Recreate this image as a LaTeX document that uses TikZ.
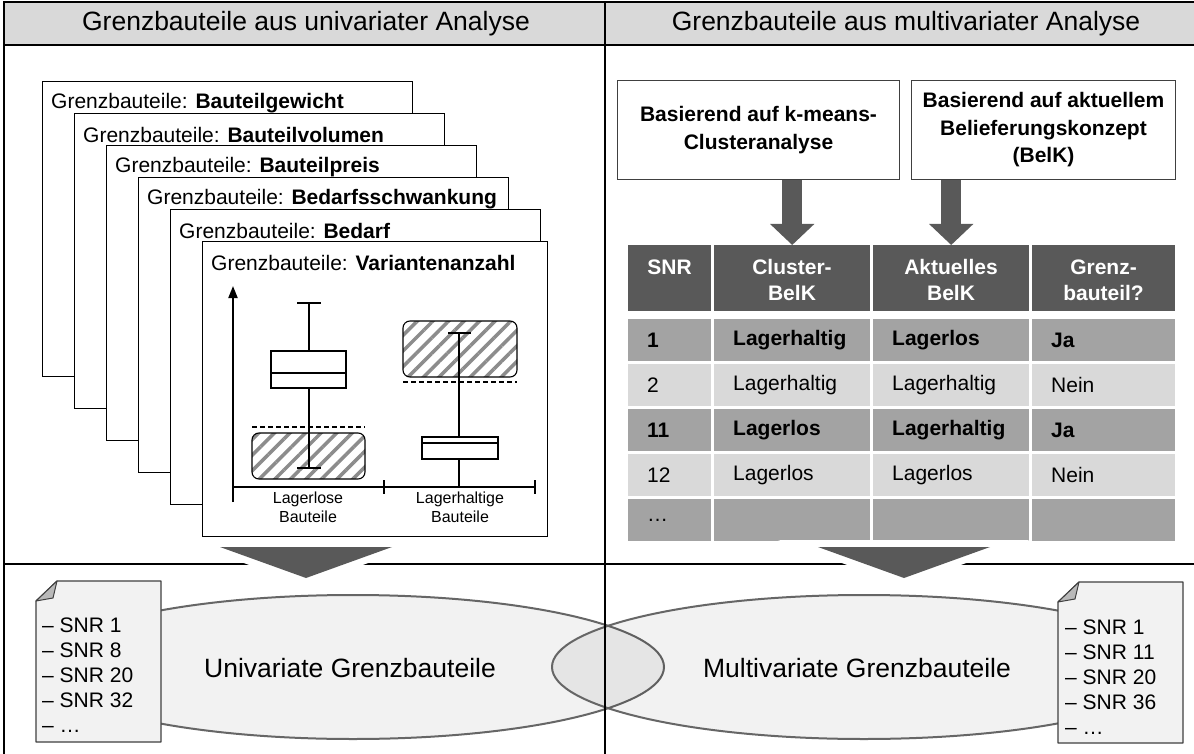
\documentclass[tikz,border=0pt]{standalone}
\usepackage{fontspec}
\setmainfont{Liberation Sans}
\usetikzlibrary{patterns.meta,arrows.meta,shapes.geometric,calc}
\definecolor{band}{HTML}{D9D9D9}
\definecolor{dark}{HTML}{595959}
\definecolor{midg}{HTML}{A3A3A3}
\definecolor{lightg}{HTML}{D9D9D9}
\definecolor{docfill}{HTML}{F2F2F2}
\definecolor{ellline}{HTML}{666666}
\definecolor{hatch}{HTML}{8C8C8C}
\definecolor{boxline}{HTML}{404040}
\begin{document}
\begin{tikzpicture}[x=1pt,y=-1pt,
  frame/.style={line width=1.4pt},
  card/.style={draw=black, fill=white, line width=1pt},
  ctitle/.style={anchor=west, inner sep=0pt, font=\fontsize{21}{25}\selectfont},
  big/.style={font=\fontsize{26.5}{30}\selectfont, inner sep=0pt},
  bp/.style={line width=1.1pt},
  hatchbox/.style={rounded corners=7pt, draw=black, line width=1.1pt, pattern={Lines[angle=45,distance=11pt,line width=3.5pt]}, pattern color=hatch},
  axlabel/.style={font=\fontsize{16}{19}\selectfont, align=center, inner sep=0pt},
  srcbox/.style={draw=boxline, fill=white, line width=1pt, anchor=north west, align=center, inner sep=0pt, font=\bfseries\fontsize{21}{27.5}\selectfont},
  cellbox/.style={anchor=north west, inner sep=0pt, draw=none},
  htext/.style={font=\bfseries\fontsize{21}{26}\selectfont, text=white, align=center, inner sep=0pt},
  btext/.style={font=\fontsize{21}{25}\selectfont, anchor=west, inner sep=0pt},
  bbold/.style={font=\bfseries\fontsize{21}{25}\selectfont, anchor=west, inner sep=0pt},
  bigarrow/.style={draw=dark, line width=20pt, -{Triangle[length=21pt,width=43pt]}},
  ell/.style={ellipse, draw=ellline, line width=2pt, fill=black, fill opacity=0.05, draw opacity=1, inner sep=0pt},
  doc/.style={fill=docfill, draw=boxline, line width=1.2pt, line join=round},
  fold/.style={fill=gray!55, draw=boxline, line width=1pt, line join=round},
  doctext/.style={font=\fontsize{21}{25}\selectfont, align=left, anchor=west, inner sep=0pt},
]
\useasboundingbox (0,0) rectangle (1194,754);
\fill[white] (0,0) rectangle (1194,754);
% header band
\fill[band] (4,2) rectangle (1194,45);

% ---------- stacked cards ----------
\foreach \k/\t in {0/Bauteilgewicht,1/Bauteilvolumen,2/Bauteilpreis,3/Bedarfsschwankung,4/Bedarf}{
  \draw[card] ({42+32*\k},{82+32*\k}) rectangle ++(370,294);
  \node[ctitle] at ({51+32*\k},{103+32*\k}) {Grenzbauteile: \textbf{\t}};
}
\draw[card] (202,242) rectangle (547,536);
\node[ctitle] (c6t) at (211,263) {Grenzbauteile: \textbf{Variantenanzahl}};

% ---------- box plot ----------
\draw[line width=2pt, -{Triangle[length=12pt,width=9pt]}] (233,502) -- (233,286);
\draw[line width=1.3pt] (233,487) -- (535,487);
\draw[line width=1.3pt] (384,480) -- (384,494);
\draw[line width=1.3pt] (535,480) -- (535,494);
% left group
\draw[hatchbox] (252,433) rectangle (365,479);
\draw[line width=1.4pt, dash pattern=on 5pt off 3pt] (252,427) -- (365,427);
\draw[bp] (309,303) -- (309,351);
\draw[bp] (309,388) -- (309,468);
\draw[bp] (297,303) -- (321,303);
\draw[bp] (297,468) -- (321,468);
\draw[bp, fill=white] (271,351) rectangle (346,388);
\draw[bp] (271,373) -- (346,373);
% right group
\draw[hatchbox] (403,321) rectangle (517,377);
\draw[line width=1.4pt, dash pattern=on 5pt off 3pt] (403,382) -- (517,382);
\draw[bp] (459,333) -- (459,437);
\draw[bp] (459,459) -- (459,487);
\draw[bp] (448,333) -- (471,333);
\draw[bp, fill=white] (422,437) rectangle (498,459);
\draw[bp] (422,443) -- (498,443);
\node[axlabel] (l1) at (308,507) {Lagerlose\\Bauteile};
\node[axlabel] (l2) at (460,507) {Lagerhaltige\\Bauteile};

% ---------- right: source boxes ----------
\node[srcbox, minimum width=282pt, minimum height=99pt] (b1) at (617,80) {Basierend auf k-means-\\Clusteranalyse};
\node[srcbox, minimum width=264pt, minimum height=99pt] (b2) at (911,80) {Basierend auf aktuellem\\Belieferungskonzept\\(BelK)};

% ---------- table ----------
\node[cellbox, fill=dark, minimum width=83pt, minimum height=66pt] (hc1) at (628,245) {};
\node[cellbox, fill=dark, minimum width=156pt, minimum height=66pt] (hc2) at (714,245) {};
\node[cellbox, fill=dark, minimum width=156pt, minimum height=66pt] (hc3) at (873,245) {};
\node[cellbox, fill=dark, minimum width=143pt, minimum height=66pt] (hc4) at (1032,245) {};
\foreach \top/\col in {319/midg,364/lightg,409/midg,454/lightg,499/midg}{
  \fill[\col] (628,\top) rectangle ++(83,42);
  \fill[\col] (714,\top) rectangle ++(156,42);
  \fill[\col] (873,\top) rectangle ++(156,42);
  \fill[\col] (1032,\top) rectangle ++(143,42);
}
\node[htext] at (669.5,267) {SNR};
\node[htext] at (792,280) {Cluster-\\BelK};
\node[htext] at (951,280) {Aktuelles\\BelK};
\node[htext] at (1103.5,280) {Grenz-\\bauteil?};

\node[bbold] at (647,340) {1};
\node[bbold] at (733,340) {Lagerhaltig};
\node[bbold] at (892,340) {Lagerlos};
\node[bbold] at (1051,340) {Ja};
\node[btext] at (647,385) {2};
\node[btext] at (733,385) {Lagerhaltig};
\node[btext] at (892,385) {Lagerhaltig};
\node[btext] at (1051,385) {Nein};
\node[bbold] at (647,430) {11};
\node[bbold] at (733,430) {Lagerlos};
\node[bbold] at (892,430) {Lagerhaltig};
\node[bbold] at (1051,430) {Ja};
\node[btext] at (647,475) {12};
\node[btext] at (733,475) {Lagerlos};
\node[btext] at (892,475) {Lagerlos};
\node[btext] at (1051,475) {Nein};
\node[btext] at (647,520) {\ldots};

% arrows from boxes to table
\draw[bigarrow] (b1.south -| hc2.north) -- (hc2.north);
\draw[bigarrow] (b2.south -| hc3.north) -- (hc3.north);

% ---------- bottom ellipses ----------
\node[ell, minimum width=622pt, minimum height=144pt] (e1) at (353,667) {};
\node[ell, minimum width=624pt, minimum height=144pt] (e2) at (864,667) {};
\node[big] (e1t) at (350,668) {Univariate Grenzbauteile};
\node[big] (e2t) at (857,668) {Multivariate Grenzbauteile};

% documents
\draw[doc] (57,581) -- (161,581) -- (161,742) -- (36,742) -- (36,601) -- cycle;
\draw[fold] (57,581) .. controls (55,590) .. (53,598) -- (36,601) -- cycle;
\node[doctext] (d1) at (42,675) {-- SNR 1\\-- SNR 8\\-- SNR 20\\-- SNR 32\\-- \ldots};
\draw[doc] (1079,582) -- (1183,582) -- (1183,743) -- (1058,743) -- (1058,602) -- cycle;
\draw[fold] (1079,582) .. controls (1077,591) .. (1075,599) -- (1058,602) -- cycle;
\node[doctext] (d2) at (1065,677) {-- SNR 1\\-- SNR 11\\-- SNR 20\\-- SNR 36\\-- \ldots};

% ---------- frame ----------
\draw[frame] (1194,2) -- (4,2) -- (4,754);
\draw[frame] (4,45) -- (1194,45);
\draw[frame] (605,2) -- (605,754);
\draw[frame] (4,564) -- (1194,564);
\node[big] (h1) at (306,24) {Grenzbauteile aus univariater Analyse};
\node[big] (h2) at (906,24) {Grenzbauteile aus multivariater Analyse};

% big down triangles
\draw[white, line width=14pt, line join=miter] (220,547) -- (392,547) -- (306,578) -- cycle;
\fill[dark] (220,547) -- (392,547) -- (306,578) -- cycle;
\draw[white, line width=14pt, line join=miter] (818,547) -- (990,547) -- (904,578) -- cycle;
\fill[dark] (818,547) -- (990,547) -- (904,578) -- cycle;
\end{tikzpicture}
\end{document}
